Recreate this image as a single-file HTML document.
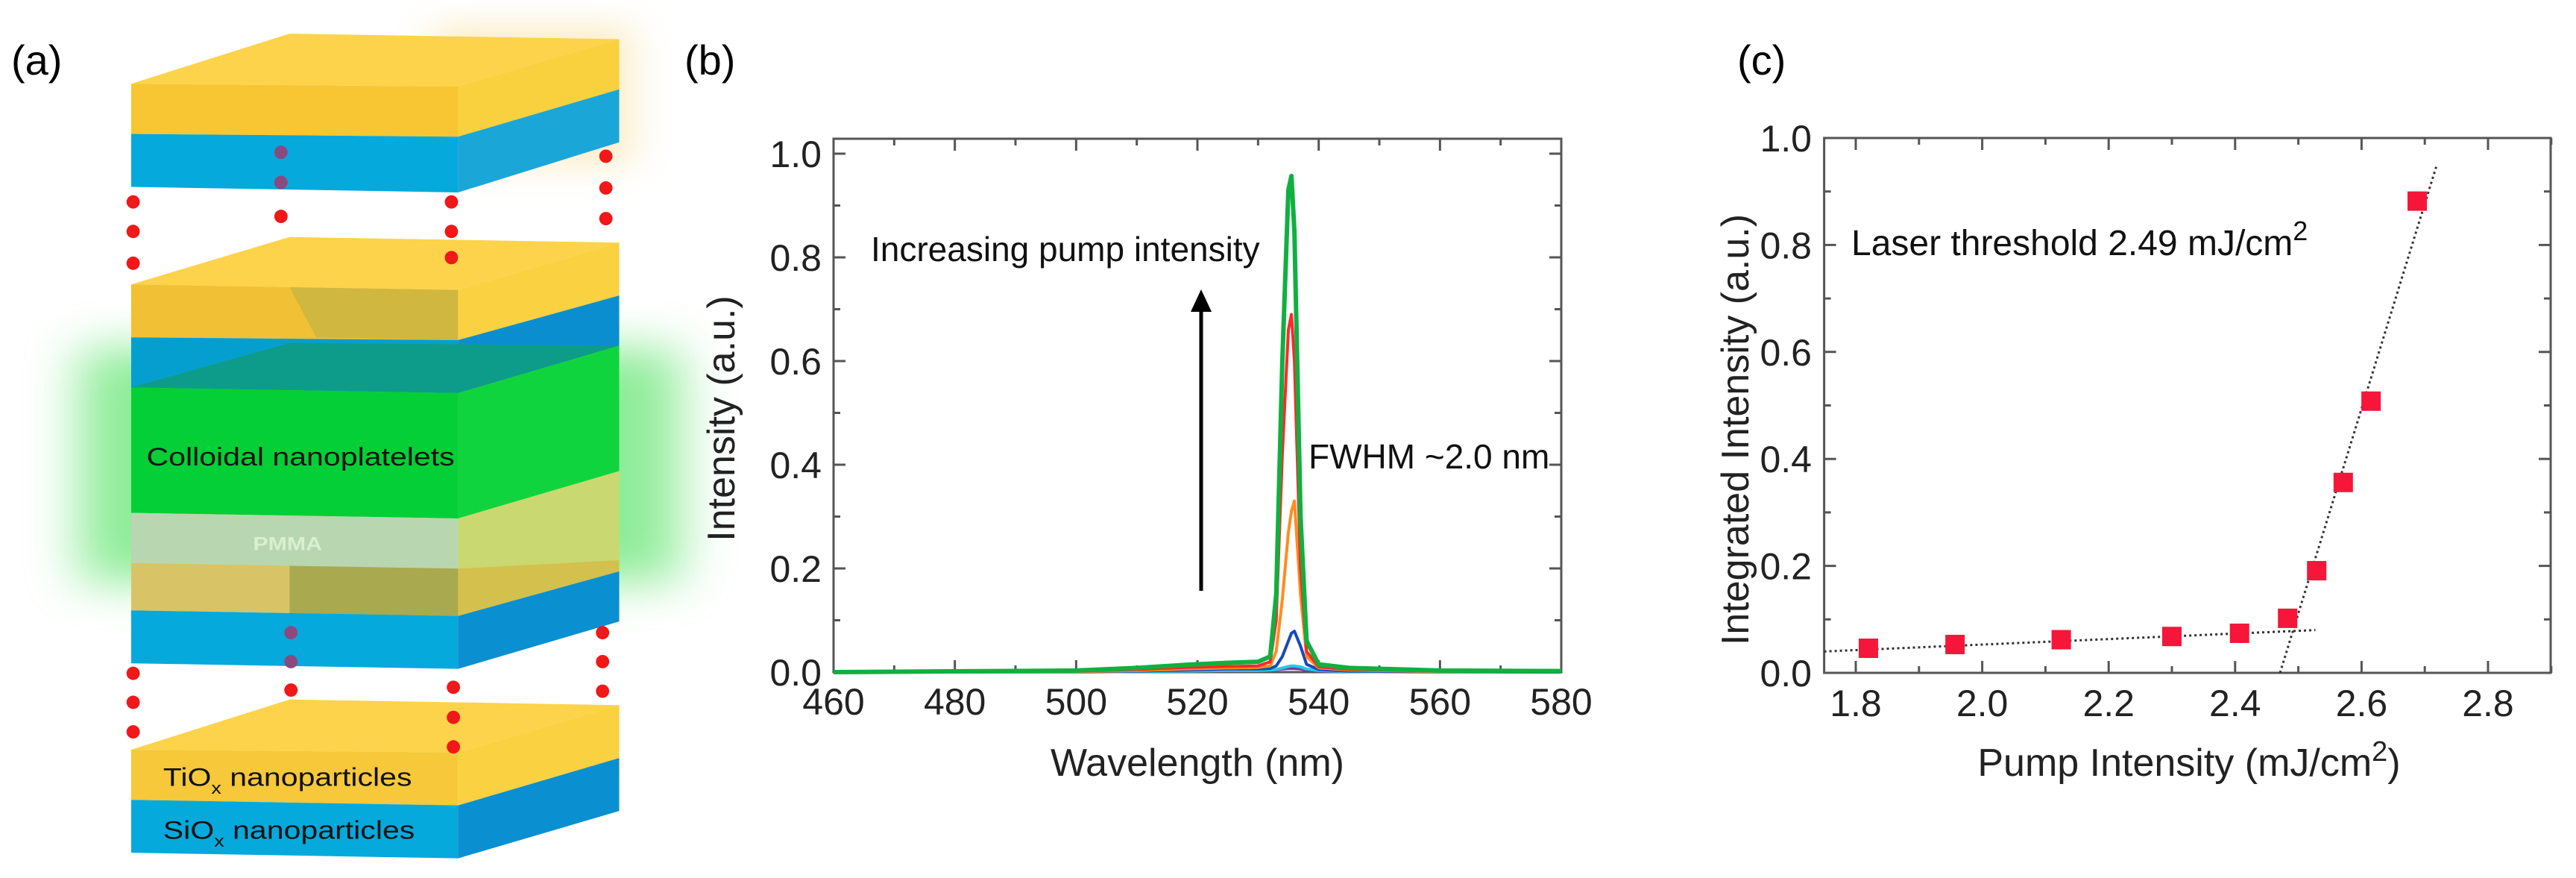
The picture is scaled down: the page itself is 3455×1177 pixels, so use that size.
<!DOCTYPE html>
<html><head><meta charset="utf-8"><style>
html,body{margin:0;padding:0;background:#fff;}
svg{display:block;font-family:"Liberation Sans",Arial,sans-serif;}
</style></head><body>
<svg id="fig" width="3455" height="1177" viewBox="0 0 3455 1177" xmlns="http://www.w3.org/2000/svg">
<defs>
<filter id="glow" x="-50%" y="-50%" width="200%" height="200%"><feGaussianBlur stdDeviation="40"/></filter>
<filter id="glowb" x="-50%" y="-50%" width="200%" height="200%"><feGaussianBlur stdDeviation="30"/></filter>
</defs>
<text x="15" y="100" font-size="56">(a)</text>
<text x="918" y="100" font-size="56">(b)</text>
<text x="2330" y="100" font-size="56">(c)</text>

<!-- Panel a schematic -->
<g id="schem" transform="translate(0,4) scale(0.893,0.747)">
  <rect x="120" y="620" width="900" height="420" fill="#33dd44" opacity="0.55" filter="url(#glow)"/>
  <rect x="650" y="40" width="300" height="250" fill="#f5d070" opacity="0.4" filter="url(#glowb)"/>
  <!-- slab 1 -->
  <g>
    <polygon points="197,145 435,55 930,65 688,150" fill="#fcd34a"/>
    <polygon points="197,145 688,150 688,240 197,235" fill="#f7c632"/>
    <polygon points="688,150 930,65 930,155 688,240" fill="#f9d03e"/>
    <polygon points="197,235 688,240 688,340 197,330" fill="#05a9dc"/>
    <polygon points="688,240 930,155 930,250 688,340" fill="#1aa7d8"/>
  </g>
  <g>
    <polygon points="197,505 435,420 930,430 688,515" fill="#fcd34a"/>
    <polygon points="197,505 688,515 688,605 197,600" fill="#f2c034"/>
    <polygon points="435,510 688,515 688,605 475,600" fill="#b9b048" opacity="0.6"/>
    <polygon points="688,515 930,430 930,525 688,605" fill="#fad140"/>
    <polygon points="197,600 688,605 688,700 197,690" fill="#059fcf"/>
    <polygon points="688,605 930,525 930,615 688,700" fill="#0b8ed0"/>
  </g>
  <g>
    <polygon points="197,690 435,610 930,615 688,700" fill="#0e9c8a"/>
    <polygon points="197,690 688,700 688,925 197,915" fill="#04cf36"/>
    <polygon points="688,700 930,615 930,840 688,925" fill="#10d43e"/>
  </g>
  <g>
    <polygon points="197,915 688,925 688,1015 197,1005" fill="#b8d6b0"/>
    <polygon points="688,925 930,840 930,1000 688,1015" fill="#c9d870"/>
  </g>
  <g>
    <polygon points="197,1005 688,1015 688,1100 197,1090" fill="#d8c466"/>
    <polygon points="435,1010 688,1015 688,1100 435,1095" fill="#a9a950"/>
    <polygon points="688,1015 930,1000 930,1020 688,1100" fill="#d4c04c"/>
    <polygon points="197,1090 688,1100 688,1195 197,1185" fill="#05a9dc"/>
    <polygon points="688,1100 930,1020 930,1110 688,1195" fill="#0a8fd0"/>
  </g>
  <g>
    <polygon points="197,1340 435,1250 930,1260 688,1345" fill="#fcd34a"/>
    <polygon points="197,1340 688,1345 688,1440 197,1430" fill="#f6c83a"/>
    <polygon points="688,1345 930,1260 930,1355 688,1440" fill="#fad140"/>
    <polygon points="197,1430 688,1440 688,1535 197,1525" fill="#05a9dc"/>
    <polygon points="688,1440 930,1355 930,1450 688,1535" fill="#0a8fd0"/>
  </g>
  <g id="dots"></g>
  <text x="220" y="830" font-size="46" fill="#111" font-family="Liberation Sans,sans-serif">Colloidal nanoplatelets</text>
  <text x="380" y="982" font-size="34" fill="#d8f0d0" font-weight="bold">PMMA</text>
  <text x="245" y="1405" font-size="46" fill="#111">TiO<tspan font-size="30" dy="14">x</tspan><tspan dy="-14"> nanoparticles</tspan></text>
  <text x="245" y="1500" font-size="46" fill="#111">SiO<tspan font-size="30" dy="14">x</tspan><tspan dy="-14"> nanoparticles</tspan></text>
</g>

<g id="panelB"></g>
<g id="panelC"></g>
</svg>
<script>
const NS='http://www.w3.org/2000/svg';
function mk(parent,tag,attrs,text){const e=document.createElementNS(NS,tag);for(const k in attrs)e.setAttribute(k,attrs[k]);if(text!==undefined)e.textContent=text;parent.appendChild(e);return e;}

// Panel a dots
const dotX=[200,200,200,678,678,678,910,910,910,422,422,422,200,200,200,437,437,437,681,681,681,905,905,905];
const dotY=[357,410,467,357,410,457,275,332,387,268,322,383,1203,1255,1308,1130,1182,1233,1228,1282,1335,1130,1182,1235];
const dotPurple=[0,0,0,0,0,0,0,0,0,1,1,0,0,0,0,1,1,0,0,0,0,0,0,0];
const dg=document.getElementById('dots');
for(let i=0;i<dotX.length;i++){
  const c=mk(dg,'ellipse',{cx:dotX[i],cy:dotY[i],rx:10,ry:12,fill:dotPurple[i]?'#8a4a80':'#f01818'});
  
  
}

// ===== Panel b data =====
const wl=[460,500,510,518,525,530,532,533,534,535,535.5,536,537,538,540,545,560,580];
const sGreen =[0,0.003,0.008,0.014,0.018,0.02,0.03,0.15,0.6,0.93,0.957,0.85,0.3,0.06,0.015,0.008,0.003,0.002];
const sRed   =[0,0.002,0.005,0.009,0.011,0.012,0.02,0.1,0.42,0.66,0.69,0.6,0.2,0.04,0.01,0.005,0.002,0.001];
const sOrange=[0,0.001,0.003,0.006,0.008,0.009,0.012,0.04,0.14,0.27,0.31,0.33,0.15,0.03,0.008,0.004,0.001,0.001];
const sBlue  =[0,0.001,0.002,0.004,0.006,0.006,0.007,0.012,0.03,0.06,0.075,0.079,0.05,0.015,0.005,0.002,0.001,0];
const sCyan  =[0,0,0.001,0.002,0.003,0.003,0.004,0.005,0.008,0.011,0.012,0.012,0.01,0.006,0.003,0.001,0,0];
const sPurple=[0,0,0.001,0.003,0.005,0.005,0.005,0.005,0.006,0.007,0.007,0.007,0.006,0.004,0.002,0.001,0,0];
const bSeries=[sPurple,sCyan,sBlue,sOrange,sRed,sGreen];
const bColors=['#7a3a9a','#28c8e8','#1848c0','#ff8c20','#ff2828','#10b040'];
const bNames=['spectrum-lowest','spectrum-2','spectrum-3','spectrum-4','spectrum-5','spectrum-highest'];
const bXTicks=[460,480,500,520,540,560,580];
const bYTicks=[0,0.2,0.4,0.6,0.8,1.0];
const bYLabels=['0.0','0.2','0.4','0.6','0.8','1.0'];

const bx=v=>1118+(v-460)*(2094-1118)/120;
const by=v=>901-v*695;
const B=document.getElementById('panelB');
// frame
const bf=mk(B,'rect',{x:1118,y:186,width:2094-1118,height:901-186,fill:'none',stroke:'#555',"stroke-width":3});


// ticks
for(let v=460;v<=580;v+=10){const maj=(v-460)%20===0;const L=maj?16:9;
  mk(B,'line',{x1:bx(v),x2:bx(v),y1:901,y2:901-L,stroke:'#555','stroke-width':3});
  mk(B,'line',{x1:bx(v),x2:bx(v),y1:186,y2:186+L,stroke:'#555','stroke-width':3});}
for(let k=0;k<=10;k++){const v=k/10;const L=k%2===0?16:9;
  mk(B,'line',{x1:1118,x2:1118+L,y1:by(v),y2:by(v),stroke:'#555','stroke-width':3});
  mk(B,'line',{x1:2094,x2:2094-L,y1:by(v),y2:by(v),stroke:'#555','stroke-width':3});}
bXTicks.forEach(v=>{const t=mk(B,'text',{x:bx(v),y:958,'font-size':50,'text-anchor':'middle',fill:'#222'},String(v));
  
  });
bYTicks.forEach((v,i)=>{const t=mk(B,'text',{x:1102,y:by(v)+18,'font-size':50,'text-anchor':'end',fill:'#222'},bYLabels[i]);
  
  });
const bxt=mk(B,'text',{x:1606,y:1040,'font-size':52,'text-anchor':'middle',fill:'#222'},'Wavelength (nm)');


const byt=mk(B,'text',{x:0,y:0,'font-size':52,'text-anchor':'middle',fill:'#222',transform:'translate(985,561) rotate(-90)'},'Intensity (a.u.)');


bSeries.forEach((s,i)=>{
  const d=s.map((v,j)=>(j?'L':'M')+bx(wl[j]).toFixed(1)+','+by(v).toFixed(1)).join(' ');
  const p=mk(B,'path',{d:d,fill:'none',stroke:bColors[i],'stroke-width':i===5?6:4,'stroke-linejoin':'round'});
  
  
});
const arr=mk(B,'line',{x1:1611,y1:792,x2:1611,y2:410,stroke:'#000','stroke-width':5});


const arh=mk(B,'polygon',{points:'1611,388 1597,418 1625,418',fill:'#000'});


const at=mk(B,'text',{x:1168,y:350,'font-size':46,fill:'#111'},'Increasing pump intensity');


const ft=mk(B,'text',{x:1755,y:628,'font-size':46,fill:'#111'},'FWHM ~2.0 nm');



// ===== Panel c data =====
const pump=[1.82,1.957,2.125,2.30,2.407,2.483,2.529,2.571,2.615,2.688];
const integ=[0.046,0.053,0.062,0.068,0.074,0.102,0.191,0.356,0.508,0.882];
const fitLowX=[1.75,2.527];
const fitLowY=[0.04,0.080];
const fitHighX=[2.471,2.718];
const fitHighY=[0,0.946];
const cXTicks=[1.8,2.0,2.2,2.4,2.6,2.8];
const cYTicks=[0,0.2,0.4,0.6,0.8,1.0];
const cYLabels=['0.0','0.2','0.4','0.6','0.8','1.0'];

const cx=v=>2489+(v-1.8)*(3337-2489)/1.0;
const cy=v=>902-v*717;
const C=document.getElementById('panelC');
const cf=mk(C,'rect',{x:cx(1.75),y:185,width:3421-cx(1.75),height:902-185,fill:'none',stroke:'#555',"stroke-width":3});


for(let k=0;k<=11;k++){const v=1.8+k*0.1;const L=k%2===0?16:9;
  mk(C,'line',{x1:cx(v),x2:cx(v),y1:902,y2:902-L,stroke:'#555','stroke-width':3});
  mk(C,'line',{x1:cx(v),x2:cx(v),y1:185,y2:185+L,stroke:'#555','stroke-width':3});}
for(let k=0;k<=10;k++){const v=k/10;const L=k%2===0?16:9;
  mk(C,'line',{x1:cx(1.75),x2:cx(1.75)+L,y1:cy(v),y2:cy(v),stroke:'#555','stroke-width':3});
  mk(C,'line',{x1:3421,x2:3421-L,y1:cy(v),y2:cy(v),stroke:'#555','stroke-width':3});}
cXTicks.forEach(v=>{const t=mk(C,'text',{x:cx(v),y:960,'font-size':50,'text-anchor':'middle',fill:'#222'},v.toFixed(1));
  
  });
cYTicks.forEach((v,i)=>{const t=mk(C,'text',{x:2430,y:cy(v)+18,'font-size':50,'text-anchor':'end',fill:'#222'},cYLabels[i]);
  
  });
const cxt=mk(C,'text',{x:2936,y:1040,'font-size':52,'text-anchor':'middle',fill:'#222'});
cxt.innerHTML='Pump Intensity (mJ/cm<tspan dy="-20" font-size="38">2</tspan><tspan dy="20">)</tspan>';


const cyt=mk(C,'text',{x:0,y:0,'font-size':52,'text-anchor':'middle',fill:'#222',transform:'translate(2345,576) rotate(-90)'},'Integrated Intensity (a.u.)');


const l1=mk(C,'line',{x1:cx(fitLowX[0]),y1:cy(fitLowY[0]),x2:cx(fitLowX[1]),y2:cy(fitLowY[1]),stroke:'#333','stroke-width':3,'stroke-dasharray':'3,4'});


const l2=mk(C,'line',{x1:cx(fitHighX[0]),y1:cy(fitHighY[0]),x2:cx(fitHighX[1]),y2:cy(fitHighY[1]),stroke:'#333','stroke-width':3,'stroke-dasharray':'3,4'});


pump.forEach((p,i)=>{const r=mk(C,'rect',{x:cx(p)-13,y:cy(integ[i])-13,width:26,height:26,fill:'#f5163a'});
  
  });
const lt=mk(C,'text',{x:2483,y:342,'font-size':48,fill:'#111'});
lt.innerHTML='Laser threshold 2.49 mJ/cm<tspan dy="-20" font-size="36">2</tspan>';


</script>
</body></html>
